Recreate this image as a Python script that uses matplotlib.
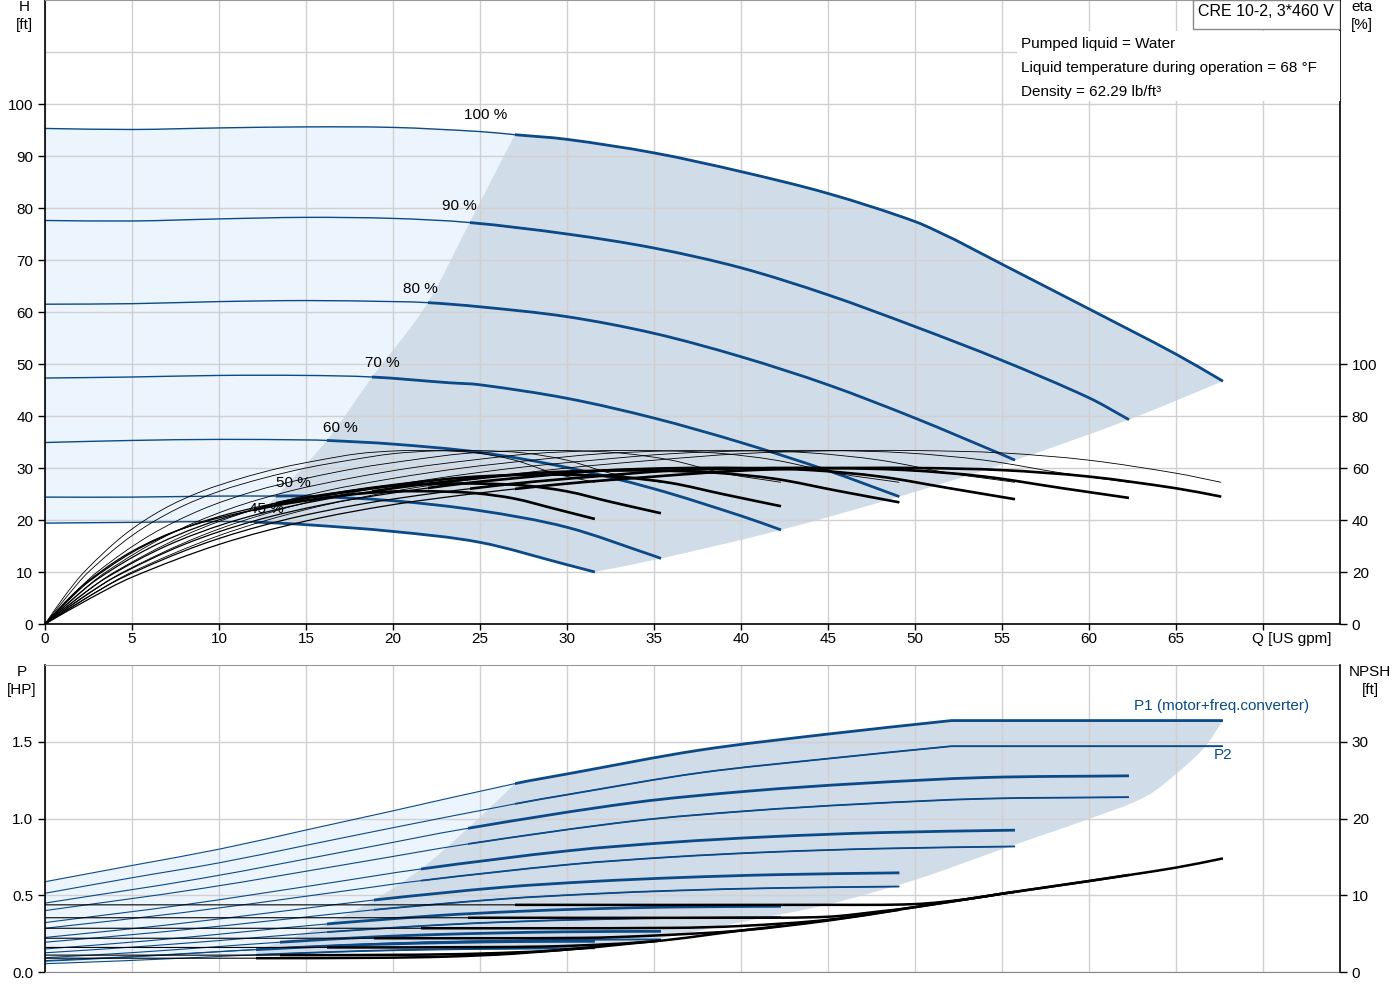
import matplotlib
matplotlib.use('Agg')
import matplotlib.pyplot as plt
from matplotlib.patches import Rectangle, PathPatch
from matplotlib.path import Path
import numpy as np

plt.rcParams['font.family'] = ['Liberation Sans', 'DejaVu Sans']
plt.rcParams['font.size'] = 11

# ---------------- data ----------------
speed_labels = ['100 %', '90 %', '80 %', '70 %', '60 %', '50 %', '45 %']

# Head curves H [ft] vs Q [US gpm]
H_Q = [
    [0, 5, 10, 15, 20, 25, 27, 30, 35, 40, 45, 50, 52.3, 55, 60, 65, 67.7],
    [0, 5, 10, 15, 20, 24.4, 30, 35, 40, 45, 50, 55, 60, 62.3],
    [0, 5, 10, 15, 20, 22, 25, 30, 35, 40, 45, 50, 55, 55.75],
    [0, 5, 10, 15, 18.8, 23.2, 25, 30, 35, 40, 45, 49.1],
    [0, 5, 10, 15, 16.2, 20, 25, 30, 35, 40, 42.3],
    [0, 5, 10, 13.3, 15, 20, 25, 30, 35, 35.4],
    [0, 5, 10, 12, 15, 20, 25, 30, 31.6],
]
H_V = [
    [95.3, 95.1, 95.4, 95.6, 95.5, 94.7, 94.1, 93.2, 90.6, 87.0, 82.8, 77.4, 73.9, 69.2, 60.6, 51.9, 46.7],
    [77.6, 77.5, 77.9, 78.2, 78.0, 77.2, 75.0, 72.3, 68.5, 63.3, 57.2, 50.7, 43.5, 39.3],
    [61.5, 61.6, 62.0, 62.2, 62.0, 61.8, 61.0, 59.1, 55.9, 51.4, 46.0, 39.6, 32.6, 31.5],
    [47.3, 47.5, 47.8, 47.8, 47.5, 46.4, 46.0, 43.4, 39.6, 34.9, 29.5, 24.5],
    [34.9, 35.3, 35.5, 35.4, 35.3, 34.6, 33.0, 30.1, 26.0, 20.8, 18.1],
    [24.4, 24.4, 24.6, 24.6, 24.6, 23.7, 21.8, 18.6, 13.1, 12.6],
    [19.4, 19.55, 19.7, 19.6, 19.1, 17.8, 15.7, 11.4, 10.0],
]
h100_kink = 52.3   # power-limit corner of the 100 % curve
# left / right limits of the operating area in the H chart
left_q = [27.0, 24.4, 22.0, 18.8, 16.2, 13.3, 12.0]
left_h = [94.1, 77.2, 61.8, 47.5, 35.3, 24.6, 19.6]
right_q = [67.7, 62.3, 55.75, 49.1, 42.3, 35.4, 31.6]
right_h = [46.7, 39.3, 31.5, 24.5, 18.1, 12.6, 10.0]

# Efficiency curves eta [%]
E_Q = [
    [0, 2.5, 5, 10, 15, 20, 25, 30, 35, 40, 45, 50, 55, 60, 65, 67.6],
    [0, 2.25, 4.5, 9, 13.5, 18, 22.5, 27, 31.5, 36, 40.5, 45, 49.5, 54, 58.5, 62.3],
    [0, 2, 4, 8, 12, 16, 20, 24, 28, 32, 36, 40, 44, 48, 52, 55.75],
    [0, 1.75, 3.5, 7, 10.5, 14, 17.5, 21, 24.5, 28, 31.5, 35, 38.5, 42, 45.5, 49.1],
    [0, 1.5, 3, 6, 9, 12, 15, 18, 21, 24, 27, 30, 33, 36, 39, 42.3],
    [0, 1.25, 2.5, 5, 7.5, 10, 12.5, 15, 17.5, 20, 22.5, 25, 27.5, 30, 32.5, 35.4],
    [0, 1.1, 2.25, 4.5, 6.75, 9, 11.25, 13.5, 15.75, 18, 20.25, 22.5, 24.75, 27, 29.25, 31.6],
]
# pump efficiency (thin curves)
E_pump = [
    [0, 10.5, 20, 34, 44, 51, 56, 60, 63, 65.5, 66.6, 66.7, 65.8, 63, 58, 54.5],
    [0, 10.5, 20, 34, 44, 51, 56, 60, 63, 65.5, 66.6, 66.7, 65.8, 63, 58, 54.5],
    [0, 10.5, 20, 34, 44, 51, 56, 60, 63, 65.5, 66.6, 66.7, 65.8, 63, 58, 54.5],
    [0, 10.5, 20, 34, 44, 51, 56, 60, 63, 65.5, 66.6, 66.7, 65.8, 63, 58, 54.5],
    [0, 10.5, 20, 34, 44, 51, 56, 60, 63, 65.5, 66.6, 66.7, 65.8, 63, 58, 54.5],
    [0, 10.5, 20, 34, 44, 51, 56, 60, 63, 65.5, 66.6, 66.7, 65.8, 63, 58, 54.5],
    [0, 10.5, 20, 34, 44, 51, 56, 60, 63, 65.5, 66.6, 66.7, 65.8, 63, 58, 54.5],
]
# total efficiency (thick curves)
E_total = [
    [0, 9.5, 18, 30.6, 39.6, 45.9, 50.4, 54, 56.7, 59, 59.9, 60, 59.2, 56.7, 52.2, 49.0],
    [0, 9.5, 18, 30.6, 39.6, 45.9, 50.4, 54, 56.7, 59, 59.9, 60, 59.2, 56.7, 52.2, 48.5],
    [0, 9.5, 18, 30.6, 39.6, 45.9, 50.4, 54, 56.7, 59, 59.9, 60, 59.2, 56.7, 52.2, 48.0],
    [0, 9.3, 17.7, 30.1, 38.9, 45.1, 49.6, 53.1, 55.8, 58, 58.9, 59, 58.2, 55.8, 51.3, 46.8],
    [0, 9, 17.2, 29.2, 37.8, 43.9, 48.2, 51.6, 54.2, 56.3, 57.3, 57.4, 56.6, 54.2, 49.9, 45.3],
    [0, 8.5, 16.2, 27.5, 35.6, 41.3, 45.4, 48.6, 51, 53.1, 53.9, 54, 53.3, 51, 47, 42.6],
    [0, 8, 15.3, 26, 33.7, 39, 42.8, 45.9, 48.2, 50.1, 51, 51, 50.3, 48.2, 44.4, 40.4],
]

# Power curves P [HP]
P_Q = [
    [0, 5, 10, 15, 20, 27, 30, 37.6, 45, 52.1, 60, 67.7],
    [0, 9, 18, 24.3, 33.8, 40.5, 46.8, 54, 62.3],
    [0, 8, 16, 21.6, 30.1, 36, 41.6, 48, 55.75],
    [0, 7, 14, 18.9, 26.3, 31.5, 36.4, 42, 49.1],
    [0, 6, 12, 16.2, 22.6, 27, 31.2, 36, 42.3],
    [0, 5, 10, 13.5, 18.8, 22.5, 26, 30, 35.4],
    [0, 4.5, 9, 12.15, 16.9, 20.25, 23.4, 27, 31.6],
]
P1_V = [
    [0.588, 0.694, 0.80, 0.925, 1.05, 1.227, 1.29, 1.445, 1.55, 1.638, 1.638, 1.638],
    [0.449, 0.610, 0.801, 0.936, 1.103, 1.179, 1.228, 1.267, 1.278],
    [0.322, 0.438, 0.574, 0.671, 0.790, 0.845, 0.881, 0.908, 0.924],
    [0.225, 0.306, 0.401, 0.469, 0.552, 0.590, 0.615, 0.634, 0.646],
    [0.150, 0.204, 0.268, 0.313, 0.368, 0.394, 0.411, 0.423, 0.428],
    [0.093, 0.126, 0.166, 0.194, 0.228, 0.244, 0.254, 0.262, 0.265],
    [0.070, 0.095, 0.125, 0.146, 0.172, 0.184, 0.192, 0.198, 0.200],
]
P2_V = [
    [0.513, 0.614, 0.711, 0.825, 0.94, 1.095, 1.155, 1.297, 1.39, 1.471, 1.471, 1.471],
    [0.400, 0.544, 0.714, 0.834, 0.983, 1.050, 1.094, 1.129, 1.139],
    [0.285, 0.388, 0.509, 0.595, 0.700, 0.749, 0.781, 0.804, 0.818],
    [0.194, 0.264, 0.346, 0.405, 0.476, 0.509, 0.531, 0.547, 0.557],
    [0.125, 0.170, 0.223, 0.260, 0.306, 0.328, 0.342, 0.352, 0.357],
    [0.074, 0.101, 0.133, 0.155, 0.182, 0.195, 0.203, 0.210, 0.212],
    [0.054, 0.073, 0.096, 0.112, 0.132, 0.142, 0.148, 0.152, 0.154],
]
p100_kink = 52.1
pleft_q = [27.0, 24.3, 21.6, 18.9, 16.2, 13.5, 12.15]
pleft_p = [1.227, 0.936, 0.671, 0.469, 0.313, 0.194, 0.146]
pright_q = [67.7, 66.7, 65.3, 63.3, 59.9, 57.2, 55, 50, 45, 40, 35.4, 31.6]
pright_p = [1.638, 1.471, 1.319, 1.145, 0.993, 0.887, 0.80, 0.60, 0.44, 0.325, 0.22, 0.15]

# NPSH curves [ft]
N_Q = [
    [0, 27, 45, 50, 53, 55, 60, 65, 67.7],
    [0, 24.3, 40, 45, 48, 50, 55, 60, 62.3],
    [0, 21.6, 36, 40, 45, 50, 55, 55.75],
    [0, 18.9, 31, 35, 40, 45, 49.1],
    [0, 16.2, 26, 30, 35, 40, 42.3],
    [0, 13.5, 21, 25, 29.6, 35.4],
    [0, 12.15, 19, 23, 27, 31.6],
]
N_V = [
    [8.75, 8.75, 8.75, 8.85, 9.5, 10.2, 11.85, 13.6, 14.8],
    [7.07, 7.07, 7.07, 7.2, 7.9, 8.45, 10.2, 11.85, 12.65],
    [5.7, 5.7, 5.75, 6.0, 6.8, 8.45, 10.2, 10.45],
    [4.4, 4.4, 4.45, 4.75, 5.4, 6.7, 8.1],
    [3.2, 3.2, 3.25, 3.4, 4.0, 5.4, 6.0],
    [2.2, 2.2, 2.25, 2.4, 2.85, 4.1],
    [1.8, 1.8, 1.85, 2.0, 2.4, 3.25],
]

x_ticks = [0, 5, 10, 15, 20, 25, 30, 35, 40, 45, 50, 55, 60, 65, 70]
x_ticklabels = ['0', '5', '10', '15', '20', '25', '30', '35', '40', '45', '50', '55', '60', '65', '']

# ---------------- style ----------------
BLUE = '#0b4a86'
LIGHT = '#ecf5fd'
DARK = '#d0dce8'
GRID = '#d0d0d0'
XMAX = 74.43

lab_q = [25.3, 23.8, 21.6, 19.4, 17.0, 14.3, 12.7]
lab_h = [97.9, 80.4, 64.4, 50.2, 37.7, 27.1, 22.1]


# ---------------- helpers: smooth drawing through the read points ----------------
def _hermite(x, y):
    """Bezier vertices of a smooth curve that passes through every (x, y)."""
    x = np.asarray(x, float)
    y = np.asarray(y, float)
    n = len(x)
    if n == 2:
        return [(x[0], y[0]), (x[1], y[1])], [Path.MOVETO, Path.LINETO]
    m = np.empty(n)
    m[0] = (y[1] - y[0]) / (x[1] - x[0])
    m[-1] = (y[-1] - y[-2]) / (x[-1] - x[-2])
    for i in range(1, n - 1):
        m[i] = (y[i + 1] - y[i - 1]) / (x[i + 1] - x[i - 1])
    verts = [(x[0], y[0])]
    codes = [Path.MOVETO]
    for i in range(n - 1):
        h = x[i + 1] - x[i]
        verts += [(x[i] + h / 3, y[i] + m[i] * h / 3),
                  (x[i + 1] - h / 3, y[i + 1] - m[i + 1] * h / 3),
                  (x[i + 1], y[i + 1])]
        codes += [Path.CURVE4] * 3
    return verts, codes


def _pieces(x, y, breaks=()):
    x = list(x)
    y = list(y)
    cut = [0] + [x.index(b) for b in breaks if b in x] + [len(x) - 1]
    cut = sorted(set(cut))
    out = []
    for a, b in zip(cut[:-1], cut[1:]):
        out.append((x[a:b + 1], y[a:b + 1]))
    return out


def curve_verts(x, y, breaks=()):
    verts, codes = [], []
    for px, py in _pieces(x, y, breaks):
        v, c = _hermite(px, py)
        if verts:
            c = [Path.LINETO] + c[1:]
        verts += v
        codes += c
    return verts, codes


def draw_curve(axes, x, y, breaks=(), clip_x=None, **kw):
    v, c = curve_verts(x, y, breaks)
    p = PathPatch(Path(v, c), fill=False, transform=axes.transData,
                  capstyle='butt', joinstyle='round', **kw)
    axes.add_patch(p)
    if clip_x is not None:
        r = Rectangle((clip_x, -1e4), 1e4, 2e4, transform=axes.transData)
        p.set_clip_path(r)
    return p


def fill_region(axes, parts, **kw):
    verts, codes = [], []
    for (x, y, br) in parts:
        v, c = curve_verts(x, y, br)
        if verts:
            c = [Path.LINETO] + c[1:]
        verts += v
        codes += c
    verts.append(verts[0])
    codes.append(Path.CLOSEPOLY)
    axes.add_patch(PathPatch(Path(verts, codes), transform=axes.transData,
                             lw=0, **kw))


def sub(x, y, lo, hi, rev=False):
    xs = [a for a in x if lo <= a <= hi]
    ys = [b for a, b in zip(x, y) if lo <= a <= hi]
    if rev:
        xs, ys = xs[::-1], ys[::-1]
    return xs, ys


fig = plt.figure(figsize=(14, 10), dpi=100)

# ================= TOP CHART =================
ax = fig.add_axes([45 / 1400, 0.376, 1295 / 1400, 0.624])
ax.set_xlim(0, XMAX)
ax.set_ylim(0, 120)
ax.set_axisbelow(True)
ax.set_xticks(x_ticks)
ax.set_xticklabels(x_ticklabels)
ax.set_yticks(range(0, 101, 10))
ax.grid(True, color=GRID, lw=1)
ax.axhline(110, color=GRID, lw=1, zorder=0.5)
ax.spines['right'].set_visible(False)
ax.spines['top'].set_color('#999999')
ax.spines['left'].set_linewidth(1.2)
ax.spines['bottom'].set_linewidth(1.2)
ax.tick_params(axis='both', direction='out', length=5, width=1, labelsize=11, colors='black')
ax.tick_params(axis='x', length=4, pad=2)

# fills
a_x, a_y = sub(H_Q[0], H_V[0], 0, left_q[0])
b_x, b_y = sub(H_Q[-1], H_V[-1], 0, left_q[-1], rev=True)
fill_region(ax, [(a_x, a_y, ()), (left_q, left_h, ()), (b_x, b_y, ())],
            facecolor=LIGHT, zorder=0.2)
c_x, c_y = sub(H_Q[0], H_V[0], left_q[0], 100)
d_x, d_y = sub(H_Q[-1], H_V[-1], left_q[-1], right_q[-1], rev=True)
fill_region(ax, [(left_q[::-1], left_h[::-1], ()), (c_x, c_y, (h100_kink,)),
                 (right_q, right_h, ()), (d_x, d_y, ())],
            facecolor=DARK, zorder=0.2)

for i in range(7):
    br = (h100_kink,) if i == 0 else ()
    draw_curve(ax, H_Q[i], H_V[i], br, edgecolor=BLUE, lw=1.0, zorder=2)
    draw_curve(ax, H_Q[i], H_V[i], br, clip_x=left_q[i], edgecolor=BLUE, lw=2.0, zorder=2.1)
    ax.text(lab_q[i], lab_h[i], speed_labels[i], ha='center', va='center', fontsize=11, zorder=4)

# efficiency axis
axe = ax.twinx()
axe.set_ylim(0, 240)
axe.set_yticks(range(0, 101, 20))
for s in ['top', 'left', 'bottom']:
    axe.spines[s].set_visible(False)
axe.spines['right'].set_linewidth(1.2)
axe.tick_params(axis='y', direction='out', length=5, width=1, labelsize=11)
for i in range(7):
    draw_curve(axe, E_Q[i], E_pump[i], edgecolor='black', lw=0.6, zorder=2)
    draw_curve(axe, E_Q[i], E_total[i], edgecolor='black', lw=0.9, zorder=2)
    draw_curve(axe, E_Q[i], E_total[i], clip_x=left_q[i], edgecolor='black', lw=1.9, zorder=2.1)

# info boxes
axe.add_patch(Rectangle((0.7506, 0.838), 0.2494, 0.112, transform=ax.transAxes,
                        facecolor='white', edgecolor='none', zorder=5))
axe.add_patch(Rectangle((0.8865, 0.9535), 0.1135, 0.0465, transform=ax.transAxes,
                        facecolor='white', edgecolor='#888888', lw=1, zorder=6))
axe.text(0.943, 0.981, 'CRE 10-2, 3*460 V', transform=ax.transAxes, ha='center',
         va='center', fontsize=11.5, zorder=7)
info = ['Pumped liquid = Water', 'Liquid temperature during operation = 68 °F',
        'Density = 62.29 lb/ft³']
for t, yy in zip(info, [0.929, 0.891, 0.8526]):
    axe.text(0.7537, yy, t, transform=ax.transAxes, ha='left', va='center',
             fontsize=11, zorder=7)

# ================= BOTTOM CHART =================
axb = fig.add_axes([45 / 1400, 0.028, 1295 / 1400, 0.307])
axb.set_xlim(0, XMAX)
axb.set_ylim(0, 2.0)
axb.set_axisbelow(True)
axb.set_xticks(x_ticks)
axb.set_xticklabels([])
axb.set_yticks([0, 0.5, 1.0, 1.5])
axb.set_yticklabels(['0.0', '0.5', '1.0', '1.5'])
axb.grid(True, color=GRID, lw=1)
axb.spines['right'].set_visible(False)
axb.spines['top'].set_color('#999999')
axb.spines['bottom'].set_color('#888888')
axb.spines['left'].set_linewidth(1.2)
axb.tick_params(axis='x', length=0)
axb.tick_params(axis='y', direction='out', length=5, width=1, labelsize=11)

a_x, a_y = sub(P_Q[0], P1_V[0], 0, pleft_q[0])
b_x, b_y = sub(P_Q[-1], P2_V[-1], 0, pleft_q[-1], rev=True)
fill_region(axb, [(a_x, a_y, ()), (pleft_q, pleft_p, ()), (b_x, b_y, ())],
            facecolor=LIGHT, zorder=0.2)
c_x, c_y = sub(P_Q[0], P1_V[0], pleft_q[0], 100)
d_x, d_y = sub(P_Q[-1], P2_V[-1], pleft_q[-1], pright_q[-1], rev=True)
fill_region(axb, [(pleft_q[::-1], pleft_p[::-1], ()), (c_x, c_y, (p100_kink,)),
                  (pright_q, pright_p, ()), (d_x, d_y, ())],
            facecolor=DARK, zorder=0.2)

for i in range(7):
    br = (p100_kink,) if i == 0 else ()
    draw_curve(axb, P_Q[i], P2_V[i], br, edgecolor=BLUE, lw=0.8, zorder=2)
    draw_curve(axb, P_Q[i], P2_V[i], br, clip_x=pleft_q[i], edgecolor=BLUE, lw=1.3, zorder=2.1)
    draw_curve(axb, P_Q[i], P1_V[i], br, edgecolor=BLUE, lw=0.8, zorder=2)
    draw_curve(axb, P_Q[i], P1_V[i], br, clip_x=pleft_q[i], edgecolor=BLUE, lw=2.0, zorder=2.2)

axn = axb.twinx()
axn.set_ylim(0, 40)
axn.set_yticks([0, 10, 20, 30])
for s in ['top', 'left', 'bottom']:
    axn.spines[s].set_visible(False)
axn.spines['right'].set_linewidth(1.2)
axn.tick_params(axis='y', direction='out', length=5, width=1, labelsize=11)
for i in range(7):
    draw_curve(axn, N_Q[i], N_V[i], edgecolor='black', lw=0.8, zorder=2)
    draw_curve(axn, N_Q[i], N_V[i], clip_x=pleft_q[i], edgecolor='black', lw=1.8, zorder=2.1)


# ================= axis titles =================
def ftxt(px, py, s, **kw):
    fig.text(px / 1400, 1 - py / 1000, s, ha='center', va='center', fontsize=11, **kw)


ftxt(24, 7, 'H')
ftxt(24, 25, '[ft]')
ftxt(1362, 7, 'eta')
ftxt(1362, 25, '[%]')
ftxt(1292, 639, 'Q [US gpm]')
ftxt(22, 672, 'P')
ftxt(22, 690, '[HP]')
ftxt(1370, 672, 'NPSH')
ftxt(1370, 690, '[ft]')
ftxt(1222, 706, 'P1 (motor+freq.converter)', color=BLUE)
ftxt(1223, 755, 'P2', color=BLUE)

fig.savefig('out.png', dpi=100)
